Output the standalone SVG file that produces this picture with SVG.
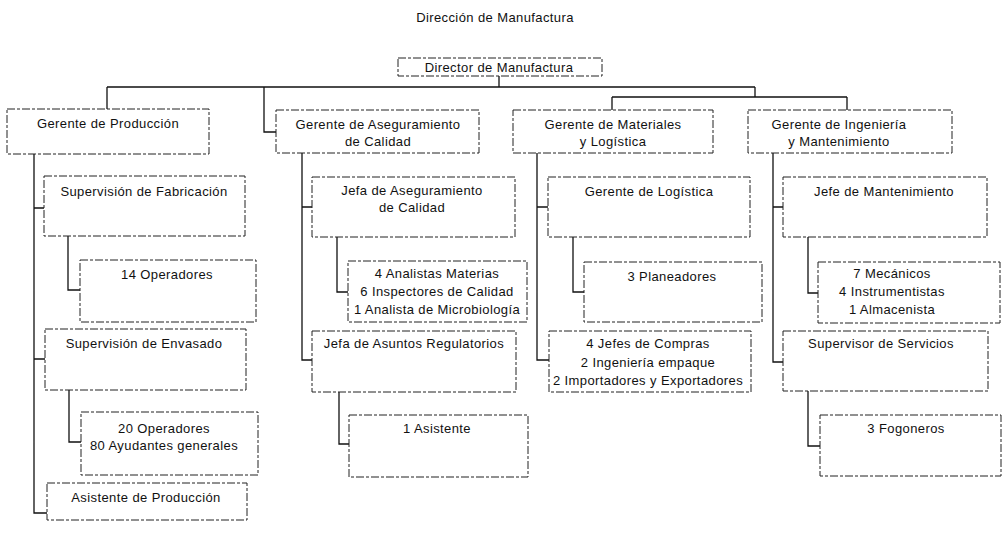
<svg xmlns="http://www.w3.org/2000/svg" width="1004" height="543" viewBox="0 0 1004 543">
<style>
text{font-family:"Liberation Sans",Arial,sans-serif;font-size:13px;letter-spacing:0.4px;fill:#111;text-anchor:middle}
.box{fill:none;stroke:#222;stroke-width:1;stroke-dasharray:8 2 3 2}
.con{fill:none;stroke:#111;stroke-width:1.3}
</style>
<rect width="1004" height="543" fill="#fff"/>
<text x="495" y="21.5">Dirección de Manufactura</text>
<g id="connectors">
<path class="con" d="M499 76V87M107 87H755M107 87V109M264 87V132H276M755 87V97M612 97H847M612 97V110M847 97V110"/>
<path class="con" d="M34 154V513H47M34 208H44M34 359H45M68 236V290H80M69 390V442H81"/>
<path class="con" d="M302 153V360H312M302 207H312M337 237V292H348M339 392V444H349"/>
<path class="con" d="M537 153V360H549M537 207H548M573 237V292H584"/>
<path class="con" d="M773 153V362H783M773 207H783M808 237V293H818M808 391V446H820"/>
</g>
<g id="director"><rect class="box" x="398" y="58" width="204" height="18"/><text x="499" y="71.5">Director de Manufactura</text></g>
<g id="gerente-produccion"><rect class="box" x="7" y="109" width="202" height="45"/><text x="108" y="127.5">Gerente de Producción</text></g>
<g id="gerente-aseguramiento"><rect class="box" x="276" y="110" width="203" height="43"/><text x="378" y="128.5">Gerente de Aseguramiento</text><text x="378" y="145.5">de Calidad</text></g>
<g id="gerente-materiales"><rect class="box" x="513" y="110" width="200" height="43"/><text x="613" y="128.5">Gerente de Materiales</text><text x="613" y="145.5">y Logística</text></g>
<g id="gerente-ingenieria"><rect class="box" x="748" y="110" width="204" height="43"/><text x="839" y="128.5">Gerente de Ingeniería</text><text x="839" y="145.5">y Mantenimiento</text></g>
<g id="sup-fabricacion"><rect class="box" x="44" y="176" width="201" height="60"/><text x="144" y="195.5">Supervisión de Fabricación</text></g>
<g id="operadores-14"><rect class="box" x="80" y="260" width="176" height="62"/><text x="167" y="278.5">14 Operadores</text></g>
<g id="sup-envasado"><rect class="box" x="45" y="329" width="201" height="61"/><text x="144" y="347.5">Supervisión de Envasado</text></g>
<g id="operadores-20"><rect class="box" x="81" y="412" width="177" height="63"/><text x="164" y="432.5">20 Operadores</text><text x="164" y="449.5">80 Ayudantes generales</text></g>
<g id="asistente-produccion"><rect class="box" x="47" y="483" width="200" height="37"/><text x="146" y="501.5">Asistente de Producción</text></g>
<g id="jefa-aseguramiento"><rect class="box" x="312" y="177" width="203" height="60"/><text x="412" y="194.5">Jefa de Aseguramiento</text><text x="412" y="211.5">de Calidad</text></g>
<g id="analistas"><rect class="box" x="348" y="261" width="179" height="61"/><text x="437" y="277.5">4 Analistas Materias</text><text x="437" y="295.5">6 Inspectores de Calidad</text><text x="437" y="313.5">1 Analista de Microbiología</text></g>
<g id="jefa-asuntos"><rect class="box" x="312" y="331" width="204" height="61"/><text x="414" y="347.5">Jefa de Asuntos Regulatorios</text></g>
<g id="asistente"><rect class="box" x="349" y="415" width="179" height="62"/><text x="437" y="432.5">1 Asistente</text></g>
<g id="gerente-logistica"><rect class="box" x="548" y="177" width="202" height="60"/><text x="649" y="195.5">Gerente de Logística</text></g>
<g id="planeadores"><rect class="box" x="584" y="262" width="178" height="60"/><text x="672" y="280.5">3 Planeadores</text></g>
<g id="compras"><rect class="box" x="549" y="331" width="202" height="61"/><text x="648" y="347.5">4 Jefes de Compras</text><text x="648" y="366.5">2 Ingeniería empaque</text><text x="648" y="384.5">2 Importadores y Exportadores</text></g>
<g id="jefe-mantenimiento"><rect class="box" x="783" y="177" width="204" height="60"/><text x="884" y="195.5">Jefe de Mantenimiento</text></g>
<g id="mecanicos"><rect class="box" x="818" y="262" width="182" height="61"/><text x="892" y="277.5">7 Mecánicos</text><text x="892" y="295.5">4 Instrumentistas</text><text x="892" y="313.5">1 Almacenista</text></g>
<g id="supervisor-servicios"><rect class="box" x="783" y="331" width="205" height="60"/><text x="881" y="347.5">Supervisor de Servicios</text></g>
<g id="fogoneros"><rect class="box" x="820" y="415" width="181" height="61"/><text x="906" y="432.5">3 Fogoneros</text></g>
</svg>
